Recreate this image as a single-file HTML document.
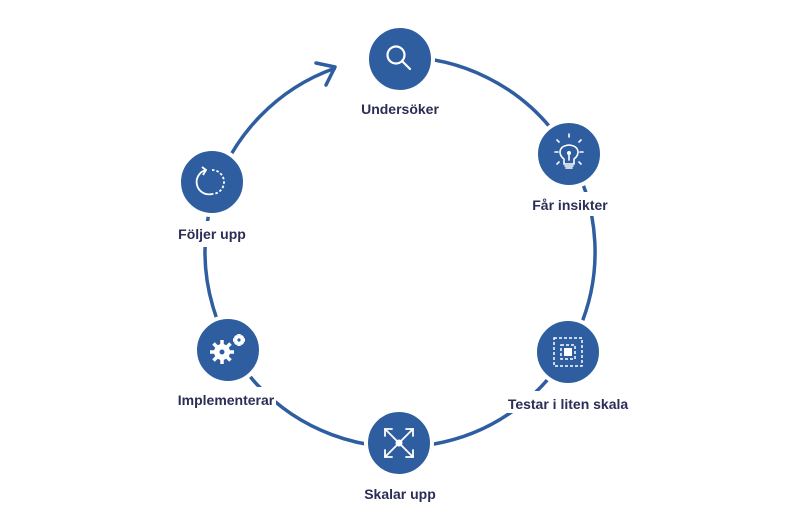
<!DOCTYPE html>
<html><head><meta charset="utf-8"><style>
html,body{margin:0;padding:0;background:#fff;}
svg{display:block}
text{font-family:"Liberation Sans",sans-serif;font-weight:bold;font-size:14px;fill:#2b2d55;text-anchor:middle}
</style></head><body>
<svg width="800" height="531" viewBox="0 0 800 531">
<path d="M400 57 A195 195 0 1 1 335.5 68" fill="none" stroke="#2f5ea0" stroke-width="3.5"/>
<polyline points="316,63 335,67 326,85" fill="none" stroke="#2f5ea0" stroke-width="3.5" stroke-linecap="round" stroke-linejoin="round"/>
<g fill="#fff">
<rect x="520" y="192" width="100" height="24"/>
<rect x="500" y="391" width="140" height="22"/>
<rect x="170" y="387" width="106" height="22"/>
<rect x="165" y="221" width="95" height="26"/>
<rect x="355" y="481" width="90" height="22"/>
</g>
<g fill="#2f5ea0" stroke="#fff" stroke-width="4">
<circle cx="400" cy="59" r="33"/>
<circle cx="569" cy="154" r="33"/>
<circle cx="568" cy="352" r="33"/>
<circle cx="399" cy="443" r="33"/>
<circle cx="228" cy="350" r="33"/>
<circle cx="212" cy="182" r="33"/>
</g>
<g fill="none" stroke="#fff" stroke-width="2.2" stroke-linecap="round">
<circle cx="396" cy="55" r="8.5"/>
<line x1="402" y1="61" x2="410" y2="69"/>
</g>
<g fill="none" stroke="#fff" stroke-width="1.6" stroke-linecap="round">
<path d="M564 164 L564 159 C558 155 558 146 569 145 C580 146 580 155 574 159 L574 164 Z"/>
<line x1="565" y1="166" x2="573" y2="166"/><line x1="566" y1="168" x2="572" y2="168"/>
<line x1="569" y1="160" x2="569" y2="154"/>
<line x1="569" y1="134" x2="569" y2="137"/>
<line x1="555" y1="152" x2="558" y2="152"/><line x1="580" y1="152" x2="583" y2="152"/>
<line x1="557" y1="140" x2="559" y2="142"/><line x1="581" y1="140" x2="579" y2="142"/>
<line x1="557" y1="164" x2="559" y2="162"/><line x1="581" y1="164" x2="579" y2="162"/>
</g>
<circle cx="569" cy="153" r="2" fill="#fff"/>
<g fill="none" stroke="#fff" stroke-width="1.5" stroke-dasharray="3 2">
<rect x="554" y="338" width="28" height="28"/>
<rect x="561" y="345" width="14" height="14"/>
</g>
<rect x="564" y="348" width="8" height="8" fill="#fff"/>
<g fill="none" stroke="#fff" stroke-width="1.8" stroke-linecap="round">
<path d="M385 429 L413 457 M413 429 L385 457"/>
<path d="M385 436 V429 H392 M406 429 H413 V436 M385 450 V457 H392 M406 457 H413 V450"/>
</g>
<circle cx="399" cy="443" r="3.5" fill="#fff"/>
<g fill="#fff">
<circle cx="222" cy="352" r="8"/>
<g stroke="#fff" stroke-width="3.5">
<line x1="222" y1="340" x2="222" y2="364"/><line x1="210" y1="352" x2="234" y2="352"/>
<line x1="213.5" y1="343.5" x2="230.5" y2="360.5"/><line x1="230.5" y1="343.5" x2="213.5" y2="360.5"/>
<line x1="239" y1="334" x2="239" y2="346"/><line x1="233" y1="340" x2="245" y2="340"/>
<line x1="235" y1="336" x2="243" y2="344"/><line x1="243" y1="336" x2="235" y2="344"/>
</g>
<circle cx="239" cy="340" r="4.5"/>
</g>
<circle cx="222" cy="352" r="2.5" fill="#2f5ea0"/>
<circle cx="239" cy="340" r="1.6" fill="#2f5ea0"/>
<path d="M206 170 A12 12 0 1 0 212 194" fill="none" stroke="#fff" stroke-width="1.8"/>
<path d="M212 170 A12 12 0 0 1 212 194" fill="none" stroke="#fff" stroke-width="1.8" stroke-dasharray="2.5 2"/>
<polyline points="202,167 206,170 203,175" fill="none" stroke="#fff" stroke-width="1.8"/>
<text x="400" y="114">Undersöker</text>
<text x="570" y="210">Får insikter</text>
<text x="568" y="409">Testar i liten skala</text>
<text x="400" y="499">Skalar upp</text>
<text x="226" y="405">Implementerar</text>
<text x="212" y="239">Följer upp</text>
</svg>
</body></html>
